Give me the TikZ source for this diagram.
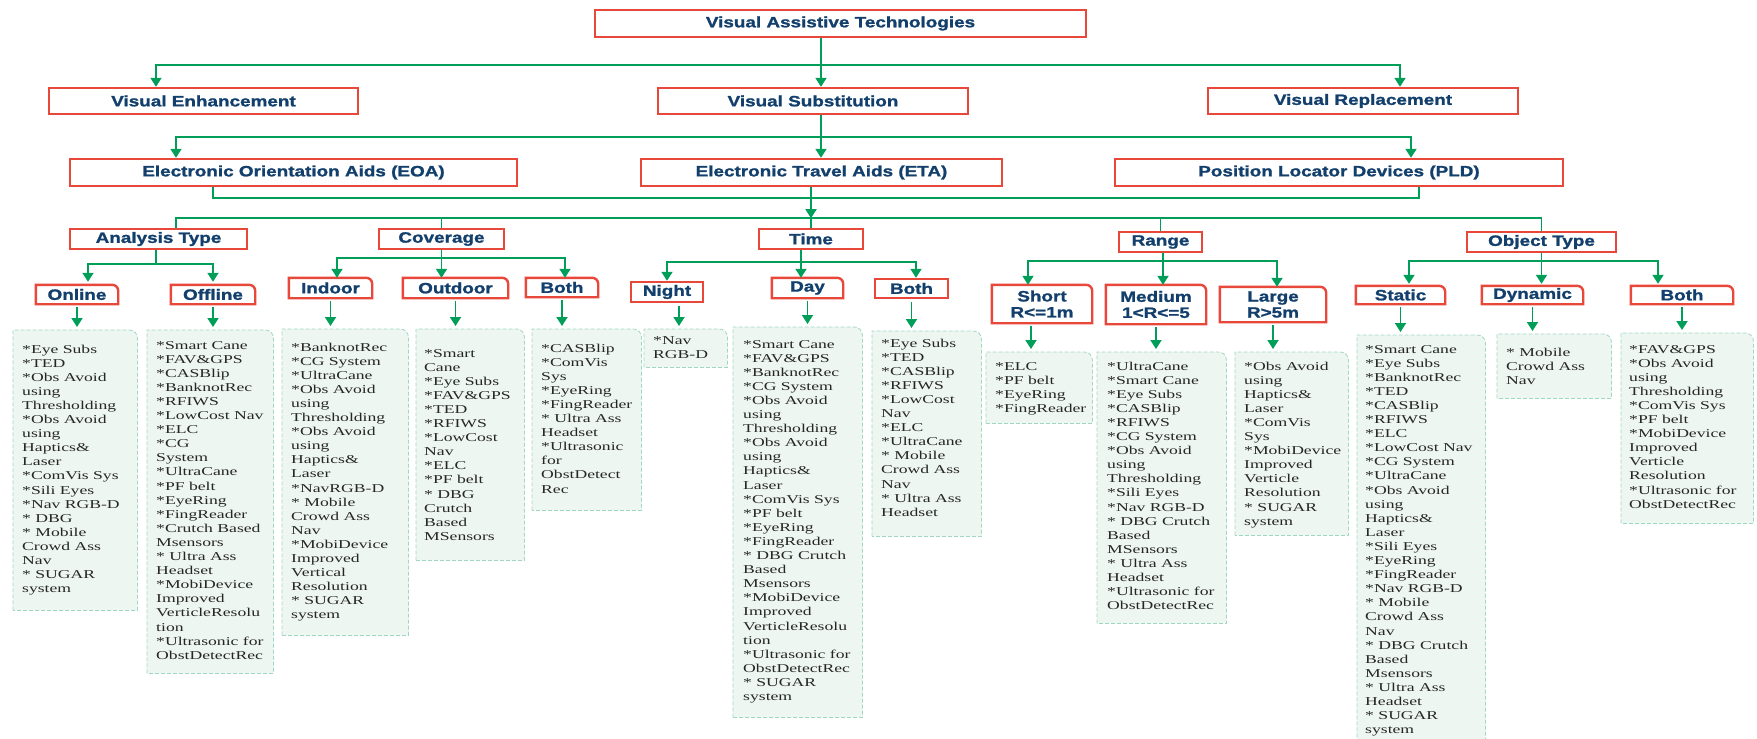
\documentclass[tikz,border=0pt]{standalone}
\usepackage{fontspec}
\usepackage{tikz}
\usetikzlibrary{arrows.meta,calc,positioning}
\newfontfamily\headfont{Liberation Sans}[FakeStretch=1.26, BoldFeatures={FakeBold=1.3}]
\newfontfamily\listfont{Liberation Serif}[FakeStretch=1.47]
\definecolor{boxred}{RGB}{232,72,58}
\definecolor{headblue}{RGB}{18,63,108}
\definecolor{linkgreen}{RGB}{0,158,88}
\definecolor{listfill}{RGB}{238,246,242}
\definecolor{listdraw}{RGB}{160,214,194}
\pgfdeclarelayer{background}
\pgfsetlayers{background,main}
\tikzset{%
	head/.style    = {draw=boxred, line width=2.4pt, fill=white, rectangle, inner sep=0pt, text=headblue, align=center, font=\headfont\bfseries\fontsize{15}{16}\selectfont},
	tab/.style     = {rectangle, inner sep=0pt, text=headblue, align=center, font=\headfont\bfseries\fontsize{15}{16}\selectfont},
	tabline/.style = {draw=boxred, line width=2.4pt, fill=white},
	listbox/.style = {rectangle, inner sep=0pt, anchor=north west},
	listline/.style= {draw=listdraw, line width=0.8pt, dash pattern=on 4pt off 2pt, fill=listfill},
	items/.style   = {anchor=base west, inner sep=0pt, text=black!85, font=\listfont\fontsize{12}{14.1}\selectfont},
	link/.style    = {draw=linkgreen, line width=1.8pt},
	arrow/.style   = {link, -{Triangle[width=11pt,length=9pt]}},
	drop/.style    = {arrow, shorten <=3pt, shorten >=3pt},
}
% frame with one rounded corner (top right), drawn behind the node
\newcommand{\tabframe}[3]{%
	\begin{pgfonlayer}{background}
	\path[#2] (#1.south west) -- (#1.north west) -- ([xshift=-#3]#1.north east)
		arc[start angle=90, end angle=0, radius=#3] -- (#1.south east) -- cycle;
	\end{pgfonlayer}}
\newcommand{\itemcol}[1]{\parbox[t]{160pt}{#1}}

\begin{document}
\begin{tikzpicture}[x=1pt, y=1pt]
	\useasboundingbox (0,0) rectangle (1757,-739);

	% top levels
	\node[head, minimum width=491, minimum height=27] (vat) at (840.5,-23.5) {Visual Assistive Technologies};
	\node[head, minimum width=309, minimum height=26] (ve) at (203.5,-101) {Visual Enhancement};
	\node[head, minimum width=310, minimum height=26] (vs) at (813,-101) {Visual Substitution};
	\node[head, minimum width=310, minimum height=26] (vr) at (1363,-101) {Visual Replacement};
	\node[head, minimum width=447, minimum height=27] (eoa) at (293.5,-172.5) {Electronic Orientation Aids (EOA)};
	\node[head, minimum width=361, minimum height=27] (eta) at (821.5,-172.5) {Electronic Travel Aids (ETA)};
	\node[head, minimum width=448, minimum height=27] (pld) at (1339,-172.5) {Position Locator Devices (PLD)};

	% criteria
	\node[head, minimum width=177, minimum height=20] (an) at (158.5,-239) {Analysis Type};
	\node[head, minimum width=125, minimum height=20] (cov) at (441.5,-239) {Coverage};
	\node[head, minimum width=104, minimum height=20] (time) at (811,-239) {Time};
	\node[head, minimum width=83, minimum height=20] (rng) at (1160.5,-242) {Range};
	\node[head, minimum width=149, minimum height=20] (obj) at (1541.5,-242) {Object Type};

	% classes
	\node[tab, minimum width=82, minimum height=19] (on) at (77,-294.5) {Online};
	\node[tab, minimum width=84, minimum height=19] (off) at (213,-294.5) {Offline};
	\node[tab, minimum width=83, minimum height=20] (ind) at (330.5,-288) {Indoor};
	\node[tab, minimum width=105, minimum height=20] (outd) at (455.5,-288) {Outdoor};
	\node[tab, minimum width=72, minimum height=19] (bc) at (562,-287.5) {Both};
	\node[head, minimum width=72, minimum height=20] (ngt) at (667,-292) {Night};
	\node[tab, minimum width=71, minimum height=20] (day) at (807.5,-288) {Day};
	\node[head, minimum width=73, minimum height=19] (bt) at (911.5,-288.5) {Both};
	\node[tab, minimum width=100, minimum height=38] (sh) at (1042,-304) {Short\\R<=1m};
	\node[tab, minimum width=100, minimum height=39] (med) at (1156,-304.5) {Medium\\1<R<=5};
	\node[tab, minimum width=106, minimum height=35] (lrg) at (1273,-304.5) {Large\\R>5m};
	\node[tab, minimum width=89, minimum height=18] (st) at (1400.5,-295) {Static};
	\node[tab, minimum width=101, minimum height=18] (dyn) at (1532.5,-295) {Dynamic};
	\node[tab, minimum width=102, minimum height=18] (bo) at (1682,-295) {Both};
	\tabframe{on}{tabline}{6pt}
	\tabframe{off}{tabline}{6pt}
	\tabframe{ind}{tabline}{6pt}
	\tabframe{outd}{tabline}{6pt}
	\tabframe{bc}{tabline}{6pt}
	\tabframe{day}{tabline}{6pt}
	\tabframe{sh}{tabline}{6pt}
	\tabframe{med}{tabline}{6pt}
	\tabframe{lrg}{tabline}{6pt}
	\tabframe{st}{tabline}{6pt}
	\tabframe{dyn}{tabline}{6pt}
	\tabframe{bo}{tabline}{6pt}

	% lists
	\node[listbox, minimum width=124, minimum height=280] (on-l) at (13,-330) {};
	\node[listbox, minimum width=126, minimum height=343] (off-l) at (147,-330) {};
	\node[listbox, minimum width=126, minimum height=306] (ind-l) at (282,-329) {};
	\node[listbox, minimum width=108, minimum height=231] (outd-l) at (416,-329) {};
	\node[listbox, minimum width=109, minimum height=181] (bc-l) at (532,-329) {};
	\node[listbox, minimum width=83, minimum height=38] (ngt-l) at (644,-329) {};
	\node[listbox, minimum width=129, minimum height=390] (day-l) at (733,-327) {};
	\node[listbox, minimum width=109, minimum height=205] (bt-l) at (872,-331) {};
	\node[listbox, minimum width=106, minimum height=71] (sh-l) at (986,-352) {};
	\node[listbox, minimum width=129, minimum height=271] (med-l) at (1097,-352) {};
	\node[listbox, minimum width=113, minimum height=183] (lrg-l) at (1235,-352) {};
	\node[listbox, minimum width=128, minimum height=420] (st-l) at (1357,-335) {};
	\node[listbox, minimum width=114, minimum height=64] (dyn-l) at (1497,-334) {};
	\node[listbox, minimum width=132, minimum height=190] (bo-l) at (1621,-333) {};
	\tabframe{on-l}{listline}{8pt}
	\tabframe{off-l}{listline}{8pt}
	\tabframe{ind-l}{listline}{8pt}
	\tabframe{outd-l}{listline}{8pt}
	\tabframe{bc-l}{listline}{8pt}
	\tabframe{ngt-l}{listline}{8pt}
	\tabframe{day-l}{listline}{8pt}
	\tabframe{bt-l}{listline}{8pt}
	\tabframe{sh-l}{listline}{8pt}
	\tabframe{med-l}{listline}{8pt}
	\tabframe{lrg-l}{listline}{8pt}
	\tabframe{st-l}{listline}{8pt}
	\tabframe{dyn-l}{listline}{8pt}
	\tabframe{bo-l}{listline}{8pt}

	\node[items] (on-t) at ([xshift=9pt,yshift=-23pt]on-l.north west) {\itemcol{*Eye Subs\\{}*TED\\{}*Obs Avoid\\using\\Thresholding\\{}*Obs Avoid\\using\\Haptics\&\\Laser\\{}*ComVis Sys\\{}*Sili Eyes\\{}*Nav RGB-D\\{}* DBG\\{}* Mobile\\Crowd Ass\\Nav\\{}* SUGAR\\system}};
	\node[items] (off-t) at ([xshift=9pt,yshift=-19pt]off-l.north west) {\itemcol{*Smart Cane\\{}*FAV\&GPS\\{}*CASBlip\\{}*BanknotRec\\{}*RFIWS\\{}*LowCost Nav\\{}*ELC\\{}*CG\\System\\{}*UltraCane\\{}*PF belt\\{}*EyeRing\\{}*FingReader\\{}*Crutch Based\\Msensors\\{}* Ultra Ass\\Headset\\{}*MobiDevice\\Improved\\VerticleResolu\\tion\\{}*Ultrasonic for\\ObstDetectRec}};
	\node[items] (ind-t) at ([xshift=9pt,yshift=-22pt]ind-l.north west) {\itemcol{*BanknotRec\\{}*CG System\\{}*UltraCane\\{}*Obs Avoid\\using\\Thresholding\\{}*Obs Avoid\\using\\Haptics\&\\Laser\\{}*NavRGB-D\\{}* Mobile\\Crowd Ass\\Nav\\{}*MobiDevice\\Improved\\Vertical\\Resolution\\{}* SUGAR\\system}};
	\node[items] (outd-t) at ([xshift=8pt,yshift=-28pt]outd-l.north west) {\itemcol{*Smart\\Cane\\{}*Eye Subs\\{}*FAV\&GPS\\{}*TED\\{}*RFIWS\\{}*LowCost\\Nav\\{}*ELC\\{}*PF belt\\{}* DBG\\Crutch\\Based\\MSensors}};
	\node[items] (bc-t) at ([xshift=9pt,yshift=-23pt]bc-l.north west) {\itemcol{*CASBlip\\{}*ComVis\\Sys\\{}*EyeRing\\{}*FingReader\\{}* Ultra Ass\\Headset\\{}*Ultrasonic\\for\\ObstDetect\\Rec}};
	\node[items] (ngt-t) at ([xshift=9pt,yshift=-15pt]ngt-l.north west) {\itemcol{*Nav\\RGB-D}};
	\node[items] (day-t) at ([xshift=10pt,yshift=-21pt]day-l.north west) {\itemcol{*Smart Cane\\{}*FAV\&GPS\\{}*BanknotRec\\{}*CG System\\{}*Obs Avoid\\using\\Thresholding\\{}*Obs Avoid\\using\\Haptics\&\\Laser\\{}*ComVis Sys\\{}*PF belt\\{}*EyeRing\\{}*FingReader\\{}* DBG Crutch\\Based\\Msensors\\{}*MobiDevice\\Improved\\VerticleResolu\\tion\\{}*Ultrasonic for\\ObstDetectRec\\{}* SUGAR\\system}};
	\node[items] (bt-t) at ([xshift=9pt,yshift=-16pt]bt-l.north west) {\itemcol{*Eye Subs\\{}*TED\\{}*CASBlip\\{}*RFIWS\\{}*LowCost\\Nav\\{}*ELC\\{}*UltraCane\\{}* Mobile\\Crowd Ass\\Nav\\{}* Ultra Ass\\Headset}};
	\node[items] (sh-t) at ([xshift=9pt,yshift=-18pt]sh-l.north west) {\itemcol{*ELC\\{}*PF belt\\{}*EyeRing\\{}*FingReader}};
	\node[items] (med-t) at ([xshift=10pt,yshift=-18pt]med-l.north west) {\itemcol{*UltraCane\\{}*Smart Cane\\{}*Eye Subs\\{}*CASBlip\\{}*RFIWS\\{}*CG System\\{}*Obs Avoid\\using\\Thresholding\\{}*Sili Eyes\\{}*Nav RGB-D\\{}* DBG Crutch\\Based\\MSensors\\{}* Ultra Ass\\Headset\\{}*Ultrasonic for\\ObstDetectRec}};
	\node[items] (lrg-t) at ([xshift=9pt,yshift=-18pt]lrg-l.north west) {\itemcol{*Obs Avoid\\using\\Haptics\&\\Laser\\{}*ComVis\\Sys\\{}*MobiDevice\\Improved\\Verticle\\Resolution\\{}* SUGAR\\system}};
	\node[items] (st-t) at ([xshift=8pt,yshift=-18pt]st-l.north west) {\itemcol{*Smart Cane\\{}*Eye Subs\\{}*BanknotRec\\{}*TED\\{}*CASBlip\\{}*RFIWS\\{}*ELC\\{}*LowCost Nav\\{}*CG System\\{}*UltraCane\\{}*Obs Avoid\\using\\Haptics\&\\Laser\\{}*Sili Eyes\\{}*EyeRing\\{}*FingReader\\{}*Nav RGB-D\\{}* Mobile\\Crowd Ass\\Nav\\\ * DBG Crutch\\Based\\Msensors\\{}* Ultra Ass\\Headset\\{}* SUGAR\\system}};
	\node[items] (dyn-t) at ([xshift=9pt,yshift=-22pt]dyn-l.north west) {\itemcol{* Mobile\\Crowd Ass\\Nav}};
	\node[items] (bo-t) at ([xshift=8pt,yshift=-20pt]bo-l.north west) {\itemcol{*FAV\&GPS\\{}*Obs Avoid\\using\\Thresholding\\{}*ComVis Sys\\{}*PF belt\\{}*MobiDevice\\Improved\\Verticle\\Resolution\\{}*Ultrasonic for\\ObstDetectRec}};

	% connectors between levels
	\draw[link] ([xshift=-19.5pt]vat.south) -- ++(0,-27) coordinate (j1);
	\draw[arrow] (j1) -| ([xshift=-47.5pt]ve.north);
	\draw[arrow] (j1) -- (j1 |- vs.north);
	\draw[arrow] (j1) -| ([xshift=37pt]vr.north);

	\draw[link] ([xshift=8pt]vs.south) -- ++(0,-22) coordinate (j2);
	\draw[arrow] (j2) -| ([xshift=-117.5pt]eoa.north);
	\draw[arrow] (j2) -- (j2 |- eta.north);
	\draw[arrow] (j2) -| ([xshift=72pt]pld.north);

	\draw[link] ([xshift=-80.5pt]eoa.south) -- ++(0,-11) -| ([xshift=80pt]pld.south);
	\draw[arrow] ([xshift=-10.5pt]eta.south) -- ++(0,-31) coordinate (j3);
	\draw[link] ([xshift=17.5pt]an.north) |- (j3) -| (obj.north);
	\draw[link] (cov.north |- j3) -- (cov.north);
	\draw[link] (j3) -- (time.north);
	\draw[link] (rng.north |- j3) -- (rng.north);

	% criteria to classes
	\draw[link] ([xshift=-2.5pt]an.south) -- ++(0,-14) coordinate (ja);
	\draw[arrow, shorten >=3pt] (ja) -| ([xshift=11pt]on.north);
	\draw[arrow, shorten >=3pt] (ja) -| (off.north);

	\draw[link] (cov.south) -- ++(0,-8) coordinate (jc);
	\draw[arrow] (jc) -| ([xshift=6.5pt]ind.north);
	\draw[arrow] (jc) -- (jc |- outd.north);
	\draw[arrow] (jc) -| ([xshift=3pt]bc.north);

	\draw[link] ([xshift=-10pt]time.south) -- ++(0,-12) coordinate (jt);
	\draw[arrow] (jt) -| (ngt.north);
	\draw[arrow] (jt) -- (jt |- day.north);
	\draw[arrow] (jt) -| ([xshift=4.5pt]bt.north);

	\draw[link] ([xshift=2.5pt]rng.south) -- ++(0,-8) coordinate (jr);
	\draw[arrow] (jr) -| ([xshift=-14pt]sh.north);
	\draw[arrow] (jr) -- (jr |- med.north);
	\draw[arrow] (jr) -| ([xshift=4pt]lrg.north);

	\draw[link] (obj.south) -- ++(0,-8) coordinate (jo);
	\draw[arrow, shorten >=2pt] (jo) -| ([xshift=8.5pt]st.north);
	\draw[arrow, shorten >=2pt] (jo) -- (jo |- dyn.north);
	\draw[arrow, shorten >=2pt] (jo) -| ([xshift=-24pt]bo.north);

	% classes to lists
	\draw[drop] (on.south) -- (on.south |- on-l.north);
	\draw[drop] (off.south) -- (off.south |- off-l.north);
	\draw[drop] (ind.south) -- (ind.south |- ind-l.north);
	\draw[drop] (outd.south) -- (outd.south |- outd-l.north);
	\draw[drop] (bc.south) -- (bc.south |- bc-l.north);
	\draw[drop] ($(ngt.south)+(12,0)$) -- ($(ngt.south |- ngt-l.north)+(12,0)$);
	\draw[drop] (day.south) -- (day.south |- day-l.north);
	\draw[drop] (bt.south) -- (bt.south |- bt-l.north);
	\draw[drop] ($(sh.south)+(-11,0)$) -- ($(sh.south |- sh-l.north)+(-11,0)$);
	\draw[drop] (med.south) -- (med.south |- med-l.north);
	\draw[drop] (lrg.south) -- (lrg.south |- lrg-l.north);
	\draw[drop] (st.south) -- (st.south |- st-l.north);
	\draw[drop] (dyn.south) -- (dyn.south |- dyn-l.north);
	\draw[drop] (bo.south) -- (bo.south |- bo-l.north);
\end{tikzpicture}
\end{document}
